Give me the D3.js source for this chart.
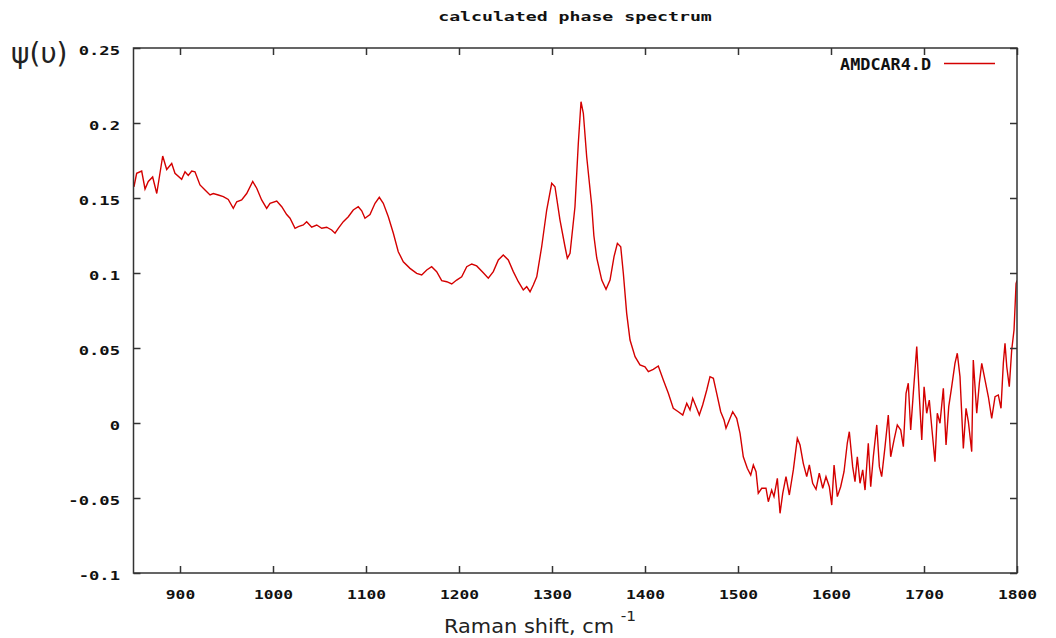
<!DOCTYPE html>
<html>
<head>
<meta charset="utf-8">
<script src="https://cdn.jsdelivr.net/npm/d3@7"></script>
<style>
  html, body { margin: 0; padding: 0; background: #fff; }
  svg { display: block; }
</style>
</head>
<body>
<svg id="chart" width="1056" height="638"></svg>
<script>
// ---- data ----
const chartTitle = "calculated phase spectrum";
const seriesName = "AMDCAR4.D";
const xTickValues = [900, 1000, 1100, 1200, 1300, 1400, 1500, 1600, 1700, 1800];
const yTickValues = [-0.1, -0.05, 0, 0.05, 0.1, 0.15, 0.2, 0.25];
const yTickLabels = ["-0.1", "-0.05", "0", "0.05", "0.1", "0.15", "0.2", "0.25"];

const ramanShift = [
  850.5, 853.4, 858.8, 862.4, 865.9, 870.6, 875, 881.4, 885.7, 891.1, 894.6,
  901.8, 905.4, 908.9, 912.6, 916.1, 921.5, 926.9, 932.3, 935.8, 941.2, 946.6,
  951.9, 957.3, 961, 966.3, 971.7, 978.2, 982.5, 987.8, 993.2, 996.8,
  1004, 1009.4, 1014.7, 1018.3, 1023.7, 1027.2, 1032.6, 1036.2, 1041.6, 1047,
  1052.4, 1057.7, 1063.1, 1066.7, 1070.2, 1075.6, 1081, 1086.3, 1091.7, 1095.4,
  1098.9, 1104.3, 1109.7, 1114.3, 1118.6, 1124, 1129.4, 1134.7, 1140.1, 1147.3,
  1154.5, 1159.9, 1165.3, 1170.6, 1176, 1181.4, 1186.8, 1192.2, 1197.5, 1202.9,
  1208.3, 1213.7, 1219, 1226.1, 1231.5, 1236.9, 1242.3, 1247.6, 1253, 1258.4,
  1263.8, 1269.1, 1272.8, 1276.4, 1279.9, 1283.6, 1288.9, 1294.3, 1299.7, 1303.2,
  1308.6, 1314, 1316.5, 1319.4, 1324.7, 1328.3, 1331.2, 1333.7, 1337.3, 1342.7,
  1345, 1348.1, 1353.5, 1358.1, 1362.4, 1366.7, 1370.3, 1373.9, 1376.7, 1380.3,
  1383.9, 1389.3, 1394.6, 1400, 1403.6, 1408.9, 1414.3, 1419.7, 1425.1, 1430.4,
  1435.8, 1440.6, 1444.9, 1448.4, 1451.3, 1455.6, 1458.4, 1462, 1466.4, 1469.9,
  1473.5, 1477.1, 1481.4, 1485, 1487.1, 1490.7, 1494.3, 1498.6, 1502.2, 1505.7,
  1510, 1513.7, 1516.5, 1519.4, 1521.8, 1525.5, 1530.1, 1532.6, 1536.2, 1538.7,
  1542.3, 1545.2, 1548.1, 1551.6, 1555.2, 1559.5, 1563.8, 1566.7, 1570.2, 1573.9,
  1576.7, 1580.3, 1583.9, 1587.4, 1591.1, 1594.6, 1598.2, 1600.8, 1603.3, 1606.8,
  1610.4, 1614, 1617.5, 1619.7, 1623.3, 1625.8, 1628.3, 1631.2, 1634.1, 1636.6,
  1640.1, 1642.7, 1645.5, 1649.2, 1652, 1654.5, 1658.1, 1661.6, 1664.2, 1667.8,
  1671.3, 1675, 1677.8, 1680.7, 1683.1, 1685.7, 1688.5, 1692.2, 1695, 1697.6,
  1700.1, 1702.9, 1705.7, 1708.6, 1711.8, 1714.3, 1717.2, 1720.8, 1723.7, 1726.6,
  1729.8, 1733.3, 1735.8, 1738.7, 1742.3, 1745.2, 1747.7, 1751.3, 1753, 1756.7,
  1759.5, 1762.1, 1765.6, 1769.2, 1772.8, 1776.4, 1779.9, 1782.8, 1785.3, 1787.1,
  1789, 1791.7, 1794.3, 1796.8, 1799, 1800
];
const phase = [
  0.1575, 0.1665, 0.168, 0.156, 0.161, 0.164, 0.153, 0.178, 0.169, 0.173, 0.1665,
  0.1625, 0.1675, 0.165, 0.168, 0.1675, 0.1587, 0.1553, 0.152, 0.153, 0.152, 0.1509,
  0.149, 0.1431, 0.1475, 0.1487, 0.153, 0.161, 0.1565, 0.1487, 0.1431, 0.1465,
  0.148, 0.1442, 0.139, 0.1365, 0.1298, 0.1309, 0.132, 0.1342, 0.1305, 0.132,
  0.1298, 0.1305, 0.1287, 0.1265, 0.1298, 0.1342, 0.1375, 0.142, 0.1442, 0.1415,
  0.1365, 0.139, 0.1465, 0.1505, 0.1465, 0.1375, 0.1265, 0.1142, 0.1075, 0.1031,
  0.0998, 0.0987, 0.102, 0.1042, 0.1009, 0.0949, 0.0942, 0.0927, 0.0953, 0.0975,
  0.1042, 0.106, 0.1047, 0.1002, 0.0965, 0.1009, 0.1087, 0.112, 0.1087, 0.1009,
  0.0942, 0.0887, 0.0909, 0.0875, 0.092, 0.0975, 0.1175, 0.142, 0.1598, 0.1575,
  0.1353, 0.1175, 0.1098, 0.1131, 0.1442, 0.1865, 0.2142, 0.2065, 0.1775, 0.145,
  0.125, 0.11, 0.0953, 0.0891, 0.0953, 0.1109, 0.1198, 0.1175, 0.0998, 0.0731,
  0.0553, 0.0442, 0.0387, 0.0375, 0.0342, 0.0358, 0.038, 0.0287, 0.0198, 0.0098,
  0.0075, 0.0053, 0.0131, 0.0087, 0.0165, 0.0098, 0.0053, 0.012, 0.022, 0.0309,
  0.0298, 0.0198, 0.0075, 0.002, -0.0035, 0.002, 0.0075, 0.0031, -0.0069, -0.0225,
  -0.0302, -0.0347, -0.028, -0.0325, -0.0469, -0.0435, -0.0435, -0.0525, -0.0447, -0.0491,
  -0.0369, -0.0602, -0.0469, -0.0358, -0.048, -0.0313, -0.0102, -0.0147, -0.0269, -0.0358,
  -0.028, -0.0402, -0.0442, -0.0335, -0.0435, -0.0358, -0.0425, -0.0547, -0.028, -0.0491,
  -0.0425, -0.0325, -0.0135, -0.0058, -0.0291, -0.0391, -0.0225, -0.0402, -0.0313, -0.0447,
  -0.0135, -0.0425, -0.0225, -0.0013, -0.0291, -0.0358, -0.0158, 0.0053, -0.0225, -0.0113,
  -0.0013, -0.0047, -0.0158, 0.0198, 0.0265, -0.0047, 0.0198, 0.0509, 0.0175, -0.0113,
  0.0242, 0.0065, 0.0153, -0.0047, -0.0258, 0.0065, -0.0002, 0.0231, -0.0147, 0.0109,
  0.0242, 0.0398, 0.0465, 0.0309, -0.0169, 0.0098, 0.0009, -0.0191, 0.042, 0.0065,
  0.0265, 0.0398, 0.0287, 0.0175, 0.0031, 0.0175, 0.0187, 0.0098, 0.0398, 0.0531,
  0.0375, 0.0242, 0.0487, 0.062, 0.093, 0.095
];

// ---- layout ----
const W = 1056, H = 638;
const plot = { left: 133.5, right: 1017, top: 48, bottom: 573 };
const lineColor = "#d40000";
const axisColor = "#333333";
const monoFont = "'DejaVu Sans Mono', 'Liberation Mono', monospace";

const svg = d3.select("#chart");
const x = d3.scaleLinear().domain([850, 1800]).range([plot.left, plot.right]);
const y = d3.scaleLinear().domain([-0.1, 0.25]).range([plot.bottom, plot.top]);

const data = ramanShift.map((v, i) => ({ x: v, y: phase[i] }));

// clip
svg.append("defs").append("clipPath").attr("id", "clip")
  .append("rect")
  .attr("x", plot.left).attr("y", plot.top)
  .attr("width", plot.right - plot.left).attr("height", plot.bottom - plot.top);

// line
svg.append("path")
  .datum(data)
  .attr("clip-path", "url(#clip)")
  .attr("fill", "none")
  .attr("stroke", lineColor)
  .attr("stroke-width", 1.4)
  .attr("stroke-linejoin", "miter")
  .attr("d", d3.line().x(d => x(d.x)).y(d => y(d.y)));

// axes (ticks inward, mirrored)
const tickLen = 7;
function styleAxis(g) {
  g.select(".domain").remove();
  g.selectAll(".tick line").attr("stroke", axisColor).attr("stroke-width", 1.5);
}

const xSx = 1.25;
const xb = svg.append("g").attr("transform", `translate(0,${plot.bottom})`)
  .call(d3.axisBottom(x).tickValues(xTickValues).tickSizeInner(-tickLen).tickSizeOuter(0).tickFormat(d3.format("d")));
styleAxis(xb);
xb.selectAll(".tick text")
  .attr("y", 26).attr("dy", 0)
  .attr("transform", `scale(${xSx},1)`)
  .attr("fill", "#111")
  .style("font-family", monoFont).style("font-weight", "bold").style("font-size", "13px");

const xt = svg.append("g").attr("transform", `translate(0,${plot.top})`)
  .call(d3.axisTop(x).tickValues(xTickValues).tickSizeInner(-tickLen).tickSizeOuter(0).tickFormat(""));
styleAxis(xt);

const yl = svg.append("g").attr("transform", `translate(${plot.left},0)`)
  .call(d3.axisLeft(y).tickValues(yTickValues).tickSizeInner(-tickLen).tickSizeOuter(0)
    .tickFormat((d, i) => yTickLabels[i]));
styleAxis(yl);
const ySx = 1.32;
yl.selectAll(".tick text")
  .attr("x", -13.5 / ySx).attr("dy", "0.5em")
  .attr("text-anchor", "end")
  .attr("transform", `scale(${ySx},1)`)
  .attr("fill", "#111")
  .style("font-family", monoFont).style("font-weight", "bold").style("font-size", "13px");

const yr = svg.append("g").attr("transform", `translate(${plot.right},0)`)
  .call(d3.axisRight(y).tickValues(yTickValues).tickSizeInner(-tickLen).tickSizeOuter(0).tickFormat(""));
styleAxis(yr);

// frame
svg.append("rect")
  .attr("x", plot.left).attr("y", plot.top)
  .attr("width", plot.right - plot.left).attr("height", plot.bottom - plot.top)
  .attr("fill", "none").attr("stroke", axisColor).attr("stroke-width", 1.5);

// title
svg.append("text")
  .attr("transform", `translate(575,21) scale(1.4,1)`)
  .attr("text-anchor", "middle")
  .attr("fill", "#111")
  .style("font-family", monoFont).style("font-weight", "bold").style("font-size", "13px")
  .text(chartTitle);

// legend
svg.append("text")
  .attr("transform", `translate(931,70) scale(1.12,1)`)
  .attr("text-anchor", "end")
  .attr("fill", "#111")
  .style("font-family", monoFont).style("font-weight", "bold").style("font-size", "15px")
  .text(seriesName);
svg.append("line")
  .attr("x1", 944).attr("x2", 995).attr("y1", 63.5).attr("y2", 63.5)
  .attr("stroke", lineColor).attr("stroke-width", 1.3);

// axis titles
const xLabel = svg.append("text")
  .attr("transform", "translate(444,633) scale(1.1,1)")
  .attr("fill", "#222")
  .style("font-family", "'DejaVu Sans', sans-serif").style("font-size", "19px");
xLabel.append("tspan").text("Raman shift, cm ");
xLabel.append("tspan").attr("dy", -12).style("font-size", "14px").text("-1");

svg.append("text")
  .attr("x", 11).attr("y", 63)
  .attr("fill", "#222")
  .style("font-family", "'DejaVu Sans', sans-serif").style("font-size", "28px")
  .text("ψ(υ)");
</script>
</body>
</html>
